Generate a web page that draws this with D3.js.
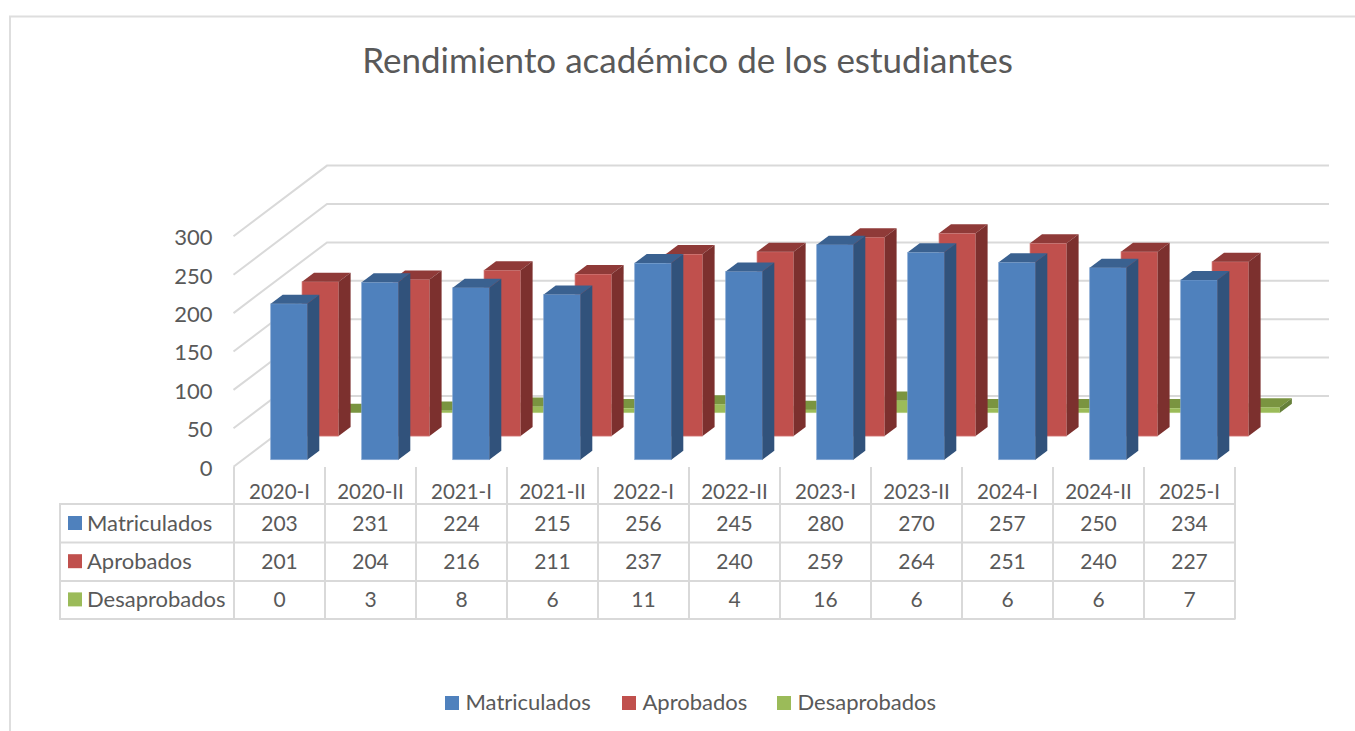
<!DOCTYPE html>
<html><head><meta charset="utf-8"><style>html,body{margin:0;background:#fff}svg{display:block}text{font-family:Lato,"Open Sans",sans-serif;fill:#595959}</style>
<script src="https://cdn.jsdelivr.net/npm/d3@7"></script></head><body><svg id="c" width="1355" height="731"></svg>
<script>
const categories=["2020-I","2020-II","2021-I","2021-II","2022-I","2022-II","2023-I","2023-II","2024-I","2024-II","2025-I"];
const matriculados=[203,231,224,215,256,245,280,270,257,250,234];
const aprobados=[201,204,216,211,237,240,259,264,251,240,227];
const desaprobados=[0,3,8,6,11,4,16,6,6,6,7];
const seriesNames=["Matriculados","Aprobados","Desaprobados"];
const seriesValues=[matriculados,aprobados,desaprobados];
const yTicks=[0,50,100,150,200,250,300];
const faces=[["#4f81bd","#3a6190","#31527b","#84a7d3"],["#c0504d","#8f3a38","#7c302e","#d98a88"],["#9bbb59","#7a9440","#66803a","#b5cf80"]];
const svg=d3.select("#c");
const grid="#d9d9d9";
const y=d3.scaleLinear().domain([0,300]).range([0,230.4]);
const x=d3.scaleBand().domain(categories).range([234,1235]);
const zx=d3.scaleLinear().domain([0,1,2]).range([0,31.3,62.6]);
const zy=d3.scaleLinear().domain([0,1,2]).range([0,-23.6,-47]);
const bw=36.6, dx=12, dy=9, base=459.7;
svg.append("path").attr("d","M10,731V16.5H1355").attr("fill","none").attr("stroke","#dedede").attr("stroke-width",2);
svg.append("text").attr("x",687.5).attr("y",72.5).attr("text-anchor","middle").style("font-size","35px").text("Rendimiento académico de los estudiantes");
const backY=v=>396-y(v);
const g=svg.append("g").attr("fill","none").attr("stroke",grid).attr("stroke-width",2);
yTicks.forEach(t=>{g.append("path").attr("d",`M233.5,${backY(t)+70.7}L327,${backY(t)}H1329`);});
yTicks.forEach(t=>svg.append("text").attr("x",212.5).attr("y",backY(t)+79.5).attr("text-anchor","end").style("font-size","22px").text(t));
[2,1,0].forEach(s=>{
 const [f,t,r,e]=faces[s];
 categories.forEach((c,i)=>{
  const x0=x(c)+36.7+zx(s), b=base+zy(s), h=y(seriesValues[s][i]), top=b-h, G=svg.append("g");
  if(h>0)G.append("rect").attr("x",x0).attr("y",top).attr("width",bw).attr("height",h).attr("fill",f).attr("stroke",e).attr("stroke-width",.7);
  G.append("path").attr("d",`M${x0},${top}l${dx},${-dy}h${bw}l${-dx},${dy}z`).attr("fill",t);
  G.append("path").attr("d",`M${x0+bw},${top}l${dx},${-dy}v${h}l${-dx},${dy}z`).attr("fill",r);
 });
});
const tb=svg.append("g").attr("stroke",grid).attr("stroke-width",2);
[504,542.6,581,619].forEach(v=>tb.append("line").attr("x1",59).attr("x2",1235.5).attr("y1",v).attr("y2",v));
tb.append("line").attr("x1",60).attr("x2",60).attr("y1",504).attr("y2",619);
[...categories.map(c=>x(c)),x.range()[1]].forEach(v=>tb.append("line").attr("x1",v).attr("x2",v).attr("y1",467).attr("y2",619));
categories.forEach((c,i)=>{
 svg.append("text").attr("x",x(c)+x.bandwidth()/2).attr("y",498.5).attr("text-anchor","middle").style("font-size","20.5px").text(c);
 seriesValues.forEach((vals,s)=>svg.append("text").attr("x",x(c)+x.bandwidth()/2).attr("y",530.5+38.4*s).attr("text-anchor","middle").style("font-size","21px").text(vals[i]));
});
seriesNames.forEach((n,s)=>{
 svg.append("rect").attr("x",68).attr("y",516+38.2*s).attr("width",14).attr("height",14).attr("fill",faces[s][0]);
 svg.append("text").attr("x",87).attr("y",530.5+38.2*s).style("font-size","22px").text(n);
});
const legX=[445,622,777];
seriesNames.forEach((n,s)=>{
 svg.append("rect").attr("x",legX[s]).attr("y",696).attr("width",14).attr("height",14).attr("fill",faces[s][0]);
 svg.append("text").attr("x",legX[s]+20.5).attr("y",710).style("font-size","22px").text(n);
});
</script></body></html>
